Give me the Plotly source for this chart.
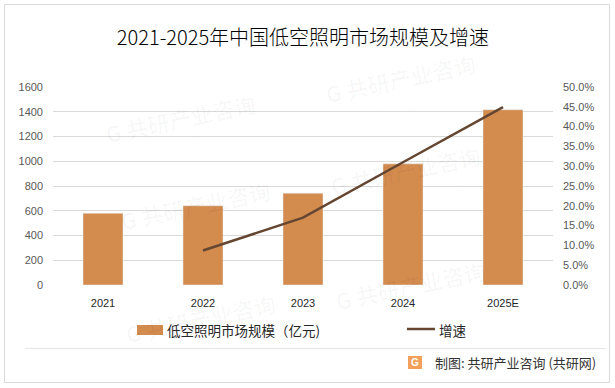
import plotly.graph_objects as go

years = ["2021", "2022", "2023", "2024", "2025E"]
market_size = [580, 640, 742, 979, 1416]          # 亿元
growth_rate = [None, 0.087, 0.170, 0.310, 0.449]  # 增速

title_text = "2021-2025年中国低空照明市场规模及增速"
bar_name = "低空照明市场规模（亿元)"
line_name = "增速"
footer_text = "制图: 共研产业咨询 (共研网)"

BAR_COLOR = "#D38B4E"
LINE_COLOR = "#654631"
GRID = "#D9D9D9"

W, H = 615, 388
L, R, T, B = 53, 62, 87, 103
PW, PH = W - L - R, H - T - B


def px(x):
    return (x - L) / PW


def py(y):
    return (H - B - y) / PH


fig = go.Figure()
fig.add_trace(go.Bar(x=years, y=market_size, name=bar_name, marker_color=BAR_COLOR,
                     width=0.4, showlegend=False))
fig.add_trace(go.Scatter(x=years, y=growth_rate, name=line_name, yaxis="y2", mode="lines",
                         line=dict(color=LINE_COLOR, width=2.5), showlegend=False,
                         connectgaps=False))

shapes = []
annotations = []


def note(text, x, y, size, color, family, xanchor="center", angle=0):
    annotations.append(dict(text=text, x=px(x), y=py(y), xref="paper", yref="paper",
                            xanchor=xanchor, yanchor="middle", showarrow=False, textangle=angle,
                            font=dict(size=size, color=color, family=family)))


# watermarks
wm = [(180, 118), (400, 78), (195, 205), (405, 170), (200, 318), (410, 285)]
for (x, y) in wm:
    note("<b>G 共研产业咨询</b>", x, y, 22, "rgba(0,0,0,0.028)", "Noto Sans CJK SC", angle=-12)
    note("w w w . g o n y n . c o m", x - 5, y + 30, 13, "rgba(0,0,0,0.028)", "Liberation Sans", angle=-12)

# outer border & separator
shapes.append(dict(type="rect", xref="paper", yref="paper", x0=px(4.5), x1=px(609.5), y0=py(382.5), y1=py(4.5),
                   line=dict(color="#D9D9D9", width=1)))
shapes.append(dict(type="line", xref="paper", yref="paper", x0=px(25), x1=px(606), y0=py(348.5), y1=py(348.5),
                   line=dict(color="#E6E6E6", width=1)))

# legend
shapes.append(dict(type="rect", xref="paper", yref="paper", x0=px(137), x1=px(163), y0=py(335), y1=py(325),
                   fillcolor=BAR_COLOR, line=dict(width=0)))
note(bar_name, 165, 330, 13.5, "#262626", "Noto Sans CJK SC", xanchor="left")
shapes.append(dict(type="line", xref="paper", yref="paper", x0=px(407), x1=px(435), y0=py(329), y1=py(329),
                   line=dict(color=LINE_COLOR, width=2.5)))
note(line_name, 437, 330, 13.5, "#262626", "Noto Sans CJK SC", xanchor="left")

# footer
shapes.append(dict(type="rect", xref="paper", yref="paper", x0=px(408), x1=px(422), y0=py(369), y1=py(356),
                   fillcolor="#F2A05A", line=dict(width=0)))
note("<b>G</b>", 415, 362.5, 10, "white", "Liberation Sans")
note(footer_text, 598, 362, 13, "#333333", "Noto Sans CJK SC", xanchor="right")

fig.update_layout(
    width=W, height=H,
    margin=dict(l=L, r=R, t=T, b=B),
    paper_bgcolor="white", plot_bgcolor="white",
    title=dict(text=title_text, x=0.5, xref="paper", xanchor="center", y=1 - 38 / H, yanchor="middle",
               font=dict(size=20, color="#000000", family="Noto Sans CJK SC", weight=300)),
    xaxis=dict(type="category", showgrid=False, zeroline=False, showline=False, ticks="",
               tickfont=dict(size=11, color="#262626", family="Liberation Sans"), ticklabelstandoff=10),
    yaxis=dict(range=[0, 1600], dtick=200, showgrid=True, gridcolor=GRID, gridwidth=1, zeroline=False,
               showline=False, ticks="", tickfont=dict(size=11, color="#595959", family="Liberation Sans"),
               ticklabelstandoff=9),
    yaxis2=dict(range=[0, 0.5], dtick=0.05, tickformat=".1%", overlaying="y", side="right", showgrid=False,
                zeroline=False, showline=False, ticks="",
                tickfont=dict(size=11, color="#595959", family="Liberation Sans"), ticklabelstandoff=9),
    bargap=0.6,
    shapes=shapes,
    annotations=annotations,
)

fig.write_html("out.html", config={"displayModeBar": False},
               post_script="document.body.style.margin='0';")
